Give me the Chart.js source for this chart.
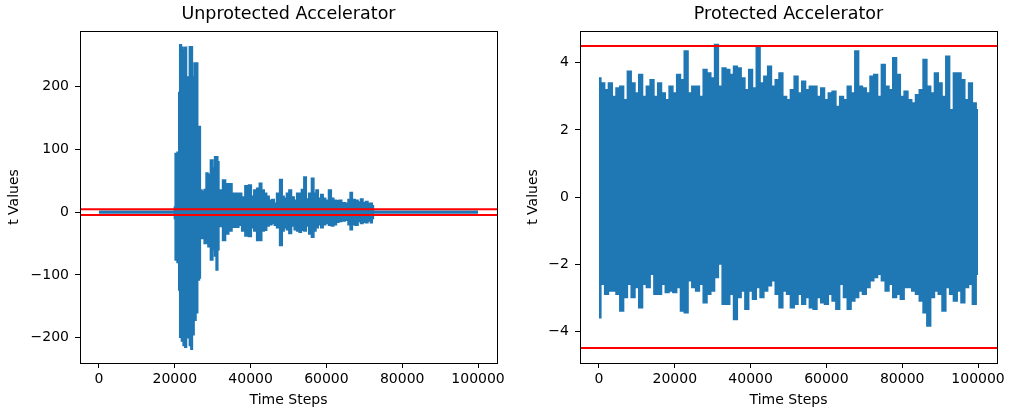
<!DOCTYPE html>
<html>
<head>
<meta charset="utf-8">
<script src="https://cdn.jsdelivr.net/npm/chart.js@4"></script>
<style>
    body { margin: 0; background: #fff; }
    .panel { position: absolute; top: 0; width: 505px; height: 412px; }
</style>
</head>
<body>
<div class="panel" style="left:0"><canvas id="leftChart" width="505" height="412"></canvas></div>
<div class="panel" style="left:500px"><canvas id="rightChart" width="505" height="412"></canvas></div>
<script>
// 보호 없는 가속기: 구간별 상/하한 (눈으로 읽은 값)
const leftSteps = [0, 19800, 20000, 20200, 21000, 21100, 21500, 22000, 22400, 22900, 23300, 23700, 24000, 24500,
    24800, 25400, 25800, 26300, 26700, 26800, 27500, 28000, 28500, 29000, 29800, 30300, 30700, 31100, 31600,
    31700, 32200, 33000, 33800, 34700, 35500, 36500, 37300, 38000, 39000, 39900, 40500, 41200, 42000, 42600,
    43300, 43900, 44600, 45200, 46000, 46500, 47200, 48100, 48600, 49100, 49800, 50400, 51200, 51800, 52500,
    53100, 53700, 54400, 55000, 55700, 56400, 57000, 57500, 58200, 58800, 59500, 60100, 61000, 61600, 62300,
    63000, 63600, 64500, 65400, 66000, 66500, 67200, 68000, 68700, 69300, 70000, 70600, 71300, 71900, 72300,
    72500, 100000];
const leftUpper = [1.5, 1.5, 8, 93, 95, 190, 266, 262, 258, 262, 215, 215, 263, 263,
    215, 237, 237, 136, 136, 35, 33, 36, 62, 60, 83, 70, 88, 88, 80,
    24, 35, 51, 45, 45, 30, 30, 30, 24, 42, 43, 25, 35, 38, 46,
    35, 30, 25, 19, 20, 14, 30, 52, 25, 22, 30, 35, 24, 19, 30,
    30, 36, 56, 21, 30, 54, 30, 35, 22, 28, 22, 19, 35, 22, 19,
    18, 19, 15, 14, 20, 31, 20, 19, 16, 21, 15, 17, 14, 14, 10,
    1.5, 1.5];
const leftLower = [-1.5, -1.5, -10, -76, -80, -124, -199, -205, -212, -215, -200, -180, -212, -218,
    -195, -172, -160, -108, -105, -39, -42, -50, -50, -55, -76, -60, -70, -92, -60,
    -20, -23, -45, -35, -30, -24, -24, -21, -30, -38, -39, -25, -30, -45, -45,
    -30, -29, -22, -20, -18, -21, -25, -53, -30, -25, -28, -34, -22, -28, -30,
    -32, -29, -30, -22, -35, -40, -30, -25, -20, -25, -20, -18, -21, -22, -20,
    -16, -15, -14, -13, -20, -28, -20, -21, -15, -18, -16, -17, -14, -17, -10,
    -1.5, -1.5];

// 보호된 가속기: 1000 스텝마다 상/하한
const rightUpper = [3.55, 3.4, 3.2, 3.4, 3.0, 3.25, 3.3, 2.9, 3.75, 3.4,
    3.1, 3.65, 3.0, 3.3, 3.5, 3.0, 3.4, 3.1, 2.9, 3.3,
    3.1, 3.65, 3.5, 4.35, 3.1, 3.3, 3.3, 3.0, 3.8, 3.7,
    3.55, 4.55, 3.3, 3.85, 3.8, 3.65, 3.9, 3.85, 3.55, 3.2,
    3.8, 3.25, 4.45, 3.4, 3.6, 3.9, 3.3, 3.5, 3.7, 3.0,
    2.9, 3.2, 3.6, 3.1, 3.45, 3.2, 3.3, 3.3, 3.0, 3.25,
    2.9, 3.1, 3.15, 2.7, 3.0, 2.9, 3.3, 3.1, 4.35, 3.3,
    3.25, 3.1, 3.6, 3.65, 3.0, 3.95, 3.3, 3.2, 4.15, 3.65,
    3.0, 3.15, 2.9, 2.8, 3.05, 3.2, 4.1, 3.3, 3.1, 3.7,
    3.4, 3.0, 4.2, 2.6, 3.7, 3.7, 3.5, 2.9, 3.4, 2.8,
    2.6];
const rightLower = [-3.6, -2.6, -2.9, -2.8, -2.8, -2.9, -3.4, -3.0, -2.6, -3.0,
    -2.7, -3.3, -2.6, -2.7, -2.3, -2.9, -2.9, -2.6, -2.85, -2.8,
    -2.85, -2.7, -3.4, -3.45, -2.5, -2.7, -2.8, -2.6, -3.15, -2.9,
    -2.8, -2.4, -2.0, -3.2, -3.2, -2.9, -3.65, -3.0, -2.8, -3.35,
    -2.8, -3.05, -2.7, -3.0, -2.8, -2.65, -2.5, -2.9, -3.3, -2.8,
    -2.9, -3.3, -3.2, -2.9, -3.2, -3.0, -3.3, -3.35, -3.0, -3.15,
    -3.2, -2.9, -3.1, -3.35, -2.6, -3.0, -3.35, -3.1, -3.0, -2.8,
    -2.9, -2.7, -2.5, -2.4, -2.3, -2.5, -2.8, -2.6, -3.0, -2.9,
    -3.05, -2.7, -2.7, -2.8, -2.9, -3.1, -3.45, -3.85, -3.0, -2.8,
    -2.9, -3.4, -2.7, -2.9, -3.1, -2.8, -3.15, -2.7, -2.6, -3.2,
    -2.3];
const rightSteps = rightUpper.map((v, i) => i * 1000);

const limits = [4.5, -4.5];      // 빨간 기준선
const xRange = [-5000, 105000];
const xTicks = [0, 20000, 40000, 60000, 80000, 100000];
const leftYTicks = [-200, -100, 0, 100, 200];
const rightYTicks = [-4, -2, 0, 2, 4];

const BLUE = '#1f77b4';
const RED = '#ff0000';

Chart.defaults.font.family = "'DejaVu Sans', sans-serif";
Chart.defaults.color = '#000';

// 축 테두리 상자 그리기
const boxPlugin = {
    id: 'box',
    afterDraw(chart) {
        const a = chart.chartArea;
        const c = chart.ctx;
        c.save();
        c.strokeStyle = '#000';
        c.lineWidth = 1;
        c.strokeRect(Math.round(a.left) + 0.5, Math.round(a.top) + 0.5,
            Math.round(a.right - a.left), Math.round(a.bottom - a.top));
        c.restore();
    }
};

function fmt(v) {
    return String(v).replace('-', '\u2212');
}

function makeChart(id, title, steps, upper, lower, yMin, yMax, yTicks, yTitlePad) {
    const ctx = document.getElementById(id).getContext('2d');
    const toPts = arr => arr.map((v, i) => ({ x: steps[i], y: v }));
    const limitSets = limits.map(v => ({
        data: [{ x: xRange[0], y: v }, { x: xRange[1], y: v }],
        borderColor: RED,
        borderWidth: 2,
        pointRadius: 0,
        fill: false,
        order: 0
    }));
    return new Chart(ctx, {
        type: 'line',
        data: {
            datasets: [{
                data: toPts(upper),
                borderColor: BLUE,
                backgroundColor: BLUE,
                borderWidth: 1.5,
                pointRadius: 0,
                stepped: 'middle',
                fill: '+1',
                order: 1
            }, {
                data: toPts(lower),
                borderColor: BLUE,
                backgroundColor: BLUE,
                borderWidth: 1.5,
                pointRadius: 0,
                stepped: 'middle',
                fill: false,
                order: 1
            }, ...limitSets]
        },
        options: {
            responsive: false,
            animation: false,
            layout: { padding: { left: 0, right: 8, top: 0, bottom: 0 } },
            plugins: {
                legend: { display: false },
                tooltip: { enabled: false },
                title: {
                    display: true,
                    text: title,
                    fullSize: false,
                    font: { size: 17.5, weight: 'normal' },
                    color: '#000',
                    padding: { top: 4, bottom: 6 }
                }
            },
            scales: {
                x: {
                    type: 'linear',
                    min: xRange[0],
                    max: xRange[1],
                    afterBuildTicks: s => { s.ticks = xTicks.map(v => ({ value: v })); },
                    afterFit: s => { s.height = 49; s.paddingLeft = 0; s.paddingRight = 0; },
                    ticks: { callback: fmt, font: { size: 14 }, padding: 3, maxRotation: 0, autoSkip: false },
                    grid: { drawOnChartArea: false, drawTicks: true, tickLength: 5, color: '#000', lineWidth: 1 },
                    border: { display: false },
                    title: { display: true, text: 'Time Steps', font: { size: 14 }, padding: { top: 0, bottom: 3.6 } }
                },
                y: {
                    min: yMin,
                    max: yMax,
                    afterBuildTicks: s => { s.ticks = yTicks.map(v => ({ value: v })); },
                    afterFit: s => { s.width = 80; s.paddingTop = 0; s.paddingBottom = 0; },
                    ticks: { callback: fmt, font: { size: 14 }, padding: 6, autoSkip: false },
                    grid: { drawOnChartArea: false, drawTicks: true, tickLength: 5, color: '#000', lineWidth: 1 },
                    border: { display: false },
                    title: { display: true, text: 't Values', font: { size: 14 }, padding: { top: yTitlePad, bottom: 0 } }
                }
            }
        },
        plugins: [boxPlugin]
    });
}

makeChart('leftChart', 'Unprotected Accelerator', leftSteps, leftUpper, leftLower, -240, 288, leftYTicks, 6);
makeChart('rightChart', 'Protected Accelerator', rightSteps, rightUpper, rightLower, -4.95, 4.95, rightYTicks, 25);
</script>
</body>
</html>
